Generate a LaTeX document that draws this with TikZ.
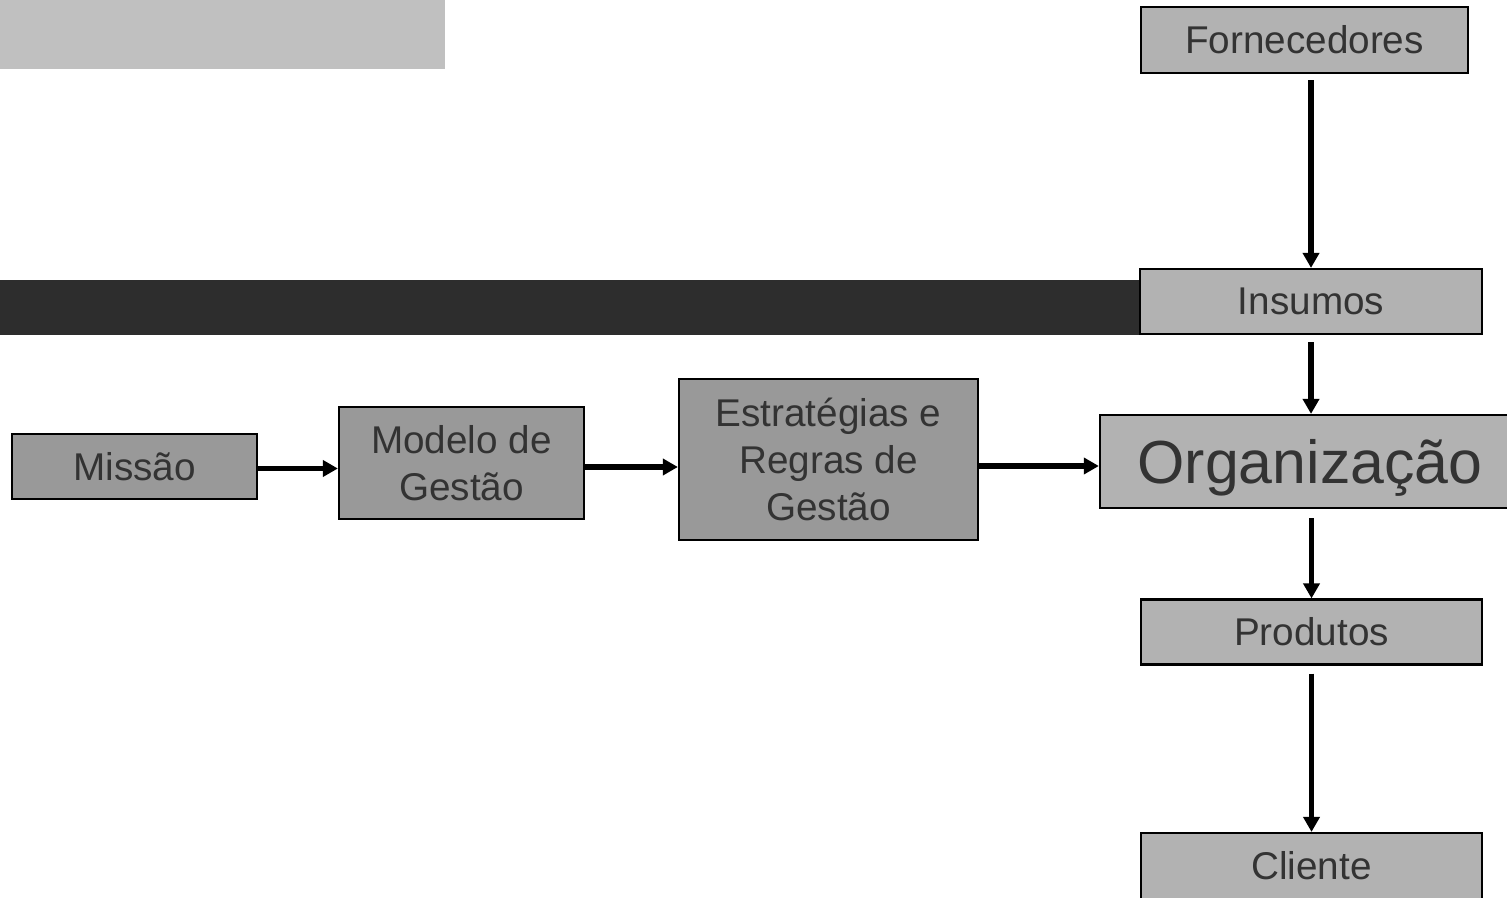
\documentclass[tikz,border=0pt]{standalone}
\usepackage{fontspec}
\setmainfont{Liberation Sans}
\usepackage{tikz}
\usetikzlibrary{arrows.meta}
\definecolor{lightbox}{HTML}{B2B2B2}
\definecolor{darkbox}{HTML}{999999}
\definecolor{textgray}{HTML}{333333}
\definecolor{band}{HTML}{2D2D2D}
\definecolor{topbar}{HTML}{C0C0C0}
\tikzstyle{flow} = [rectangle,
inner sep=0pt,
align=center,
draw=black,
line width=0.6pt,
text=textgray,
fill=lightbox,
font=\fontsize{11}{13.3}\selectfont]
\tikzstyle{plan} = [flow, fill=darkbox]
\tikzstyle{arrow} = [line width=1.6pt,-{Triangle[length=0.15cm,width=0.16cm]}]

\begin{document}
\begin{tikzpicture}[x=0.01cm, y=-0.01cm]
  \useasboundingbox (0,0) rectangle (1507,898);
  \clip (0,0) rectangle (1507,898);

  \fill [topbar] (0,0) rectangle (445,69);
  \fill [band] (0,280) rectangle (1465,335);

  \node (forn) [flow, minimum width=3.27cm, minimum height=0.66cm] at (1304.5,40) {Fornecedores};
  \node (ins) [flow, minimum width=3.42cm, minimum height=0.65cm] at (1311,301.5) {Insumos};
  \node (org) [flow, minimum width=4.2cm, minimum height=0.93cm, text depth=0pt, font=\fontsize{17.3}{20}\selectfont] at (1310,461.5) {Organização};
  \node (prod) [flow, minimum width=3.41cm, minimum height=0.65cm] at (1311.5,632) {Produtos};
  \node (cli) [flow, minimum width=3.41cm, minimum height=0.66cm] at (1311.5,866) {Cliente};

  \node (missao) [plan, minimum width=2.45cm, minimum height=0.65cm] at (134.5,466.5) {Missão};
  \node (modelo) [plan, minimum width=2.45cm, minimum height=1.12cm] at (461.5,463) {Modelo de\\Gestão};
  \node (estr) [plan, minimum width=2.99cm, minimum height=1.61cm] at (828.5,459.5) {Estratégias e\\Regras de\\Gestão};

  \draw [arrow, shorten <=0.06cm] (forn.south -| ins.north) -- (ins.north);
  \draw [arrow, shorten <=0.07cm] (ins.south) -- (org.north -| ins.south);
  \draw [arrow, shorten <=0.09cm] (org.south -| prod.north) -- (prod.north);
  \draw [arrow, shorten <=0.08cm] (prod.south) -- (cli.north);

  \draw [arrow] ([yshift=-0.02cm]missao.east) -- ([yshift=-0.02cm]missao.east -| modelo.west);
  \draw [arrow] ([yshift=-0.04cm]modelo.east) -- ([yshift=-0.04cm]modelo.east -| estr.west);
  \draw [arrow] ([yshift=-0.065cm]estr.east) -- ([yshift=-0.065cm]estr.east -| org.west);

\end{tikzpicture}
\end{document}
